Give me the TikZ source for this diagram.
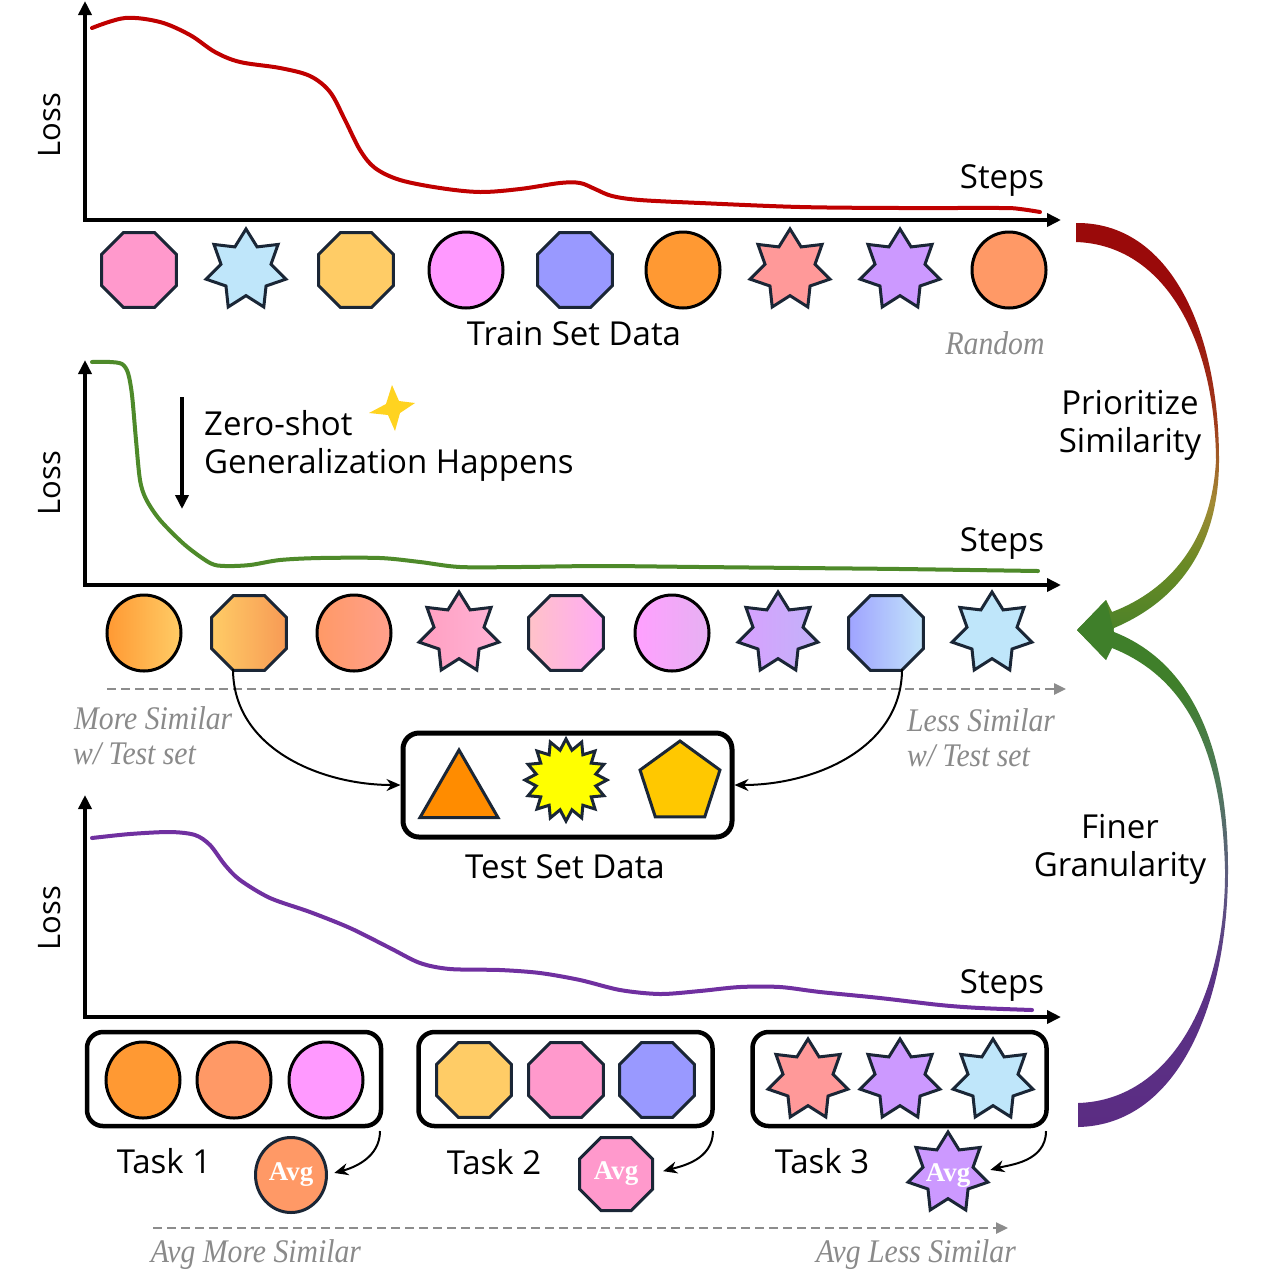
\documentclass[tikz,border=0pt]{standalone}
\usepackage{fontspec}
\usepackage{graphicx}
\setmainfont{Liberation Serif}
\newfontfamily\hand{Open Sans}
\usetikzlibrary{shapes.geometric,arrows.meta}

\definecolor{c1}{HTML}{FF99CC}
\definecolor{c2}{HTML}{BFE6FA}
\definecolor{c3}{HTML}{FFCC66}
\definecolor{c4}{HTML}{FF99FF}
\definecolor{c5}{HTML}{9999FF}
\definecolor{c6}{HTML}{FF9933}
\definecolor{c7}{HTML}{FF9999}
\definecolor{c8}{HTML}{CC99FF}
\definecolor{c9}{HTML}{FF9966}
\definecolor{g2r}{HTML}{F79A55}
\definecolor{g3r}{HTML}{FFA08C}
\definecolor{g4l}{HTML}{FF9FC0}
\definecolor{g4r}{HTML}{FFB3D6}
\definecolor{g5l}{HTML}{FFC2C8}
\definecolor{g5r}{HTML}{FFAAF5}
\definecolor{g6l}{HTML}{FFA0FF}
\definecolor{g6r}{HTML}{E6B0F2}
\definecolor{g7l}{HTML}{D8A0FF}
\definecolor{g7r}{HTML}{C2B2F8}
\definecolor{g8l}{HTML}{9FA3FF}
\definecolor{g8r}{HTML}{C2E4FA}
\definecolor{edge}{HTML}{1A2636}
\definecolor{triC}{HTML}{FF8C00}
\definecolor{yelC}{HTML}{FFFF00}
\definecolor{goldC}{HTML}{FFC800}
\definecolor{grayT}{HTML}{8A8A8A}
\definecolor{grayA}{HTML}{8C8C8C}
\definecolor{redC}{HTML}{C00000}
\definecolor{greenC}{HTML}{4E8A2A}
\definecolor{purpC}{HTML}{7030A0}
\definecolor{sparkC}{HTML}{FFD320}

\definecolor{rgA}{HTML}{3F7F2A}
\definecolor{rgB}{HTML}{6A8A25}
\definecolor{rgC}{HTML}{A38A35}
\definecolor{rgD}{HTML}{A03C1C}
\definecolor{rgE}{HTML}{9A0A0A}
\definecolor{pgA}{HTML}{5B2C83}
\definecolor{pgB}{HTML}{5B3386}
\definecolor{pgC}{HTML}{5F5A82}
\definecolor{pgD}{HTML}{4F7A5A}
\definecolor{pgE}{HTML}{3F7F2A}

\pgfdeclareverticalshading{ribtop}{100bp}{color(0bp)=(rgA); color(25bp)=(rgA); color(36bp)=(rgB); color(43bp)=(rgC); color(52bp)=(rgD); color(66bp)=(rgE); color(75bp)=(rgE); color(100bp)=(rgE)}
\pgfdeclareverticalshading{ribbot}{100bp}{color(0bp)=(pgA); color(25bp)=(pgA); color(39bp)=(pgB); color(48bp)=(pgC); color(58bp)=(pgD); color(67bp)=(pgE); color(75bp)=(pgE); color(100bp)=(pgE)}

\begin{document}
\begin{tikzpicture}[x=1pt,y=-1pt,
  hw/.style={font=\hand\fontsize{33}{38}\selectfont, inner sep=0pt},
  gr/.style={font=\fontsize{33}{38}\selectfont\itshape, text=grayT, inner sep=0pt},
  axis/.style={line width=3.5pt, line join=miter},
  curve/.style={line width=4pt, line cap=round, line join=round},
  shp/.style={draw=edge, line width=3pt, inner sep=0pt, outer sep=0pt},
  octa/.style={shp, regular polygon, regular polygon sides=8, minimum size=81pt},
  circ/.style={shp, draw=black, ellipse, minimum width=74pt, minimum height=76pt},
  sev/.style={shp, star, star points=7, star point ratio=1.6, minimum size=82pt},
  taskbox/.style={draw, line width=4.5pt, rounded corners=16pt, minimum width=294pt, minimum height=94pt, inner sep=0pt},
  dasharr/.style={draw=grayA, line width=2.5pt, dash pattern=on 9pt off 5pt, -{Triangle[length=12pt,width=11pt]}},
  curvarr/.style={line width=2pt, -{Stealth[length=14pt,width=12pt]}},
  avgtxt/.style={font=\bfseries\fontsize{27}{30}\selectfont, text=white, inner sep=0pt}
]
\useasboundingbox (0,0) rectangle (1281,1275);
\fill[white] (0,0) rectangle (1281,1275);

% ---------- top chart ----------
\coordinate (o1) at (85,220);
\coordinate (y1) at (85,1);
\coordinate (x1) at (1061,220);
\draw[axis, {Triangle[length=14pt,width=13pt]}-{Triangle[length=14pt,width=13pt]}] (y1) -- (o1) -- (x1);
\draw[curve, redC] plot[smooth, tension=0.55] coordinates {(92,28) (125,18) (160,22) (190,35) (215,52) (240,62) (280,68) (310,76) (330,92) (345,120) (360,150) (375,168) (400,180) (440,188) (480,192) (520,189) (560,183) (580,183) (595,189) (612,196) (640,200) (700,203) (800,207) (900,208) (1000,208) (1020,209) (1040,212)};
\node[hw, rotate=90, font=\hand\fontsize{31}{36}\selectfont] (loss1) at (50,125) {Loss};
\node[hw] (steps1) at (1002,181) {Steps};

\node[octa, fill=c1] (a1) at (139,270) {};
\node[sev,  fill=c2] (a2) at (246,270) {};
\node[octa, fill=c3] (a3) at (356,270) {};
\node[circ, fill=c4] (a4) at (466,270) {};
\node[octa, fill=c5] (a5) at (575,270) {};
\node[circ, fill=c6] (a6) at (683,270) {};
\node[sev,  fill=c7] (a7) at (790,270) {};
\node[sev,  fill=c8] (a8) at (900,270) {};
\node[circ, fill=c9] (a9) at (1009,270) {};
\node[hw] (trainlbl) at (574,334) {Train Set Data};
\node[gr] (rand) at (995,343) {\scalebox{0.9}[1]{Random}};

% ---------- middle chart ----------
\coordinate (o2) at (85,585);
\coordinate (y2) at (85,360);
\coordinate (x2) at (1061,585);
\draw[axis, {Triangle[length=14pt,width=13pt]}-{Triangle[length=14pt,width=13pt]}] (y2) -- (o2) -- (x2);
\draw[curve, greenC] plot[smooth, tension=0.5] coordinates {(92,362) (110,362) (122,364) (128,373) (132,395) (136,440) (140,480) (146,499) (160,520) (185,545) (210,563) (225,566) (250,565) (280,560) (320,558) (380,558) (420,562) (460,567) (520,567) (600,566) (700,567) (800,568) (900,569) (1038,571)};
\node[hw, rotate=90, font=\hand\fontsize{31}{36}\selectfont] (loss2) at (50,483) {Loss};
\node[hw] (steps2) at (1002,544) {Steps};
\coordinate (za) at (182,397);
\coordinate (zb) at (182,509);
\draw[axis, -{Triangle[length=14pt,width=13pt]}] (za) -- (zb);
\node[hw, align=left, anchor=west] (zs) at (204,446) {Zero-shot\\Generalization Happens};
\fill[sparkC] (392,385) -- (399,401) -- (415,403) -- (400,413) -- (395,431) -- (388,415) -- (369,413) -- (386,404) -- cycle;

\node[circ, left color=c6, right color=c3] (b1) at (144,633) {};
\node[octa, left color=c3, right color=g2r] (b2) at (249,633) {};
\node[circ, left color=c9, right color=g3r] (b3) at (354,633) {};
\node[sev,  left color=g4l, right color=g4r] (b4) at (459,633) {};
\node[octa, left color=g5l, right color=g5r] (b5) at (566,633) {};
\node[circ, left color=g6l, right color=g6r] (b6) at (672,633) {};
\node[sev,  left color=g7l, right color=g7r] (b7) at (778,633) {};
\node[octa, left color=g8l, right color=g8r] (b8) at (886,633) {};
\node[sev,  fill=c2] (b9) at (992,633) {};

\coordinate (d1s) at (107,689);
\coordinate (d1e) at (1066,689);
\draw[dasharr] (d1s) -- (d1e);
\node[gr, anchor=west] (ms1) at (74,718) {\scalebox{0.9}[1]{More Similar}};
\node[gr, anchor=west] (ms2) at (73,754) {\scalebox{0.9}[1]{w/ Test set}};
\node[gr, anchor=west] (ls1) at (907,720) {\scalebox{0.9}[1]{Less Similar}};
\node[gr, anchor=west] (ls2) at (907,756) {\scalebox{0.9}[1]{w/ Test set}};

% test set box
\node[draw, line width=5pt, rounded corners=16pt, minimum width=329pt, minimum height=104pt, inner sep=0pt] (testbox) at (567.5,785) {};
\node[shp, regular polygon, regular polygon sides=3, minimum size=90pt, fill=triC] (tri) at (459,795) {};
\node[shp, star, star points=16, star point ratio=1.35, minimum size=82pt, fill=yelC] (burst) at (566,780) {};
\node[shp, regular polygon, regular polygon sides=5, minimum size=84pt, fill=goldC] (pent) at (680,783) {};
\node[hw] (testlbl) at (565,867) {Test Set Data};

\coordinate (m2b) at (233,669);
\coordinate (m8b) at (902,669);
\draw[curvarr] (m2b) to[out=-90,in=180] (testbox.west);
\draw[curvarr] (m8b) to[out=-90,in=0] (testbox.east);

% ---------- bottom chart ----------
\coordinate (o3) at (85,1017);
\coordinate (y3) at (85,795);
\coordinate (x3) at (1061,1017);
\draw[axis, {Triangle[length=14pt,width=13pt]}-{Triangle[length=14pt,width=13pt]}] (y3) -- (o3) -- (x3);
\draw[curve, purpC] plot[smooth, tension=0.5] coordinates {(92,838) (130,834) (170,832) (195,835) (210,845) (225,865) (240,880) (270,898) (310,912) (350,928) (390,948) (420,963) (450,969) (500,970) (540,973) (580,980) (620,990) (660,994) (700,991) (740,987) (780,987) (820,992) (880,998) (940,1005) (980,1008) (1032,1010)};
\node[hw, rotate=90, font=\hand\fontsize{31}{36}\selectfont] (loss3) at (50,918) {Loss};
\node[hw] (steps3) at (1002,985) {Steps};

\node[taskbox] (t1) at (234,1079) {};
\node[taskbox] (t2) at (565.5,1079) {};
\node[taskbox] (t3) at (899.5,1079) {};
\node[circ, fill=c6] (e1) at (143,1080) {};
\node[circ, fill=c9] (e2) at (234,1080) {};
\node[circ, fill=c4] (e3) at (326,1080) {};
\node[octa, fill=c3] (e4) at (474,1080) {};
\node[octa, fill=c1] (e5) at (566,1080) {};
\node[octa, fill=c5] (e6) at (657,1080) {};
\node[sev,  fill=c7] (e7) at (808,1080) {};
\node[sev,  fill=c8] (e8) at (900,1080) {};
\node[sev,  fill=c2] (e9) at (993,1080) {};

\node[hw] (task1) at (164,1161) {Task 1};
\node[hw] (task2) at (494,1162) {Task 2};
\node[hw] (task3) at (822,1161) {Task 3};

\node[circ, draw=edge, fill=c9, minimum width=71pt, minimum height=75pt, label={[avgtxt]center:Avg}] (avg1) at (291,1175) {};
\node[octa, fill=c1, minimum size=79pt, label={[avgtxt]center:Avg}] (avg2) at (616,1174) {};
\node[sev, fill=c8, label={[avgtxt, yshift=-3pt]center:Avg}] (avg3) at (948,1173) {};

\coordinate (t1c) at (380,1131);
\coordinate (t2c) at (713,1131);
\coordinate (t3c) at (1046,1131);
\draw[curvarr, shorten >=8pt] (t1c) to[out=-90,in=15] (avg1.east);
\draw[curvarr, shorten >=11pt] (t2c) to[out=-90,in=15] (avg2.east);
\draw[curvarr, shorten >=12pt] (t3c) to[out=-90,in=15] (avg3.east);

\coordinate (d2s) at (153,1228);
\coordinate (d2e) at (1008,1228);
\draw[dasharr] (d2s) -- (d2e);
\node[gr] (ams) at (256,1255) {\scalebox{0.9}[1]{Avg More Similar}};
\node[gr] (als) at (916,1255) {\scalebox{0.9}[1]{Avg Less Similar}};

% ---------- right ribbons ----------
\shade[shading=ribtop] (1076,223) .. controls (1170,222) and (1219,330) .. (1219,460)
   .. controls (1219,545) and (1180,600) .. (1114,628)
   -- (1106,660) -- (1077,630) -- (1106,600) -- (1112,612)
   .. controls (1170,590) and (1212,540) .. (1216,460)
   .. controls (1215,340) and (1165,245) .. (1076,242) -- cycle;
\shade[shading=ribbot] (1078,1127) .. controls (1180,1125) and (1228,1000) .. (1228,870)
   .. controls (1228,735) and (1185,660) .. (1114,632)
   -- (1106,600) -- (1077,630) -- (1106,660) -- (1112,648)
   .. controls (1180,675) and (1222,740) .. (1225,870)
   .. controls (1226,990) and (1175,1100) .. (1078,1103) -- cycle;
\node[hw, align=center] (prio) at (1130,425) {Prioritize\\Similarity};
\node[hw, align=center] (finer) at (1120,849) {Finer\\Granularity};
\end{tikzpicture}
\end{document}
